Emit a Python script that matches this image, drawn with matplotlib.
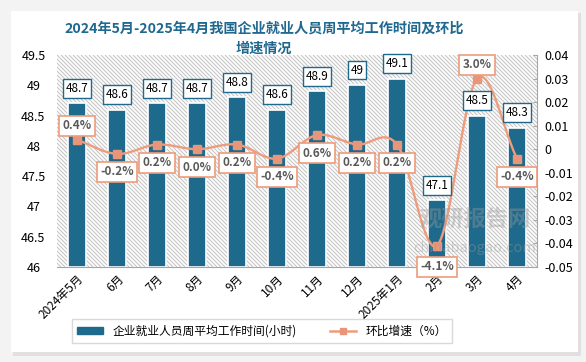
import numpy as np
import matplotlib
matplotlib.use("Agg")
import matplotlib.pyplot as plt
from matplotlib.patches import Rectangle
from matplotlib.lines import Line2D
from matplotlib.collections import LineCollection

plt.rcParams['font.family'] = ['Noto Sans CJK SC', 'DejaVu Sans']

# データ
months = ["2024年5月", "6月", "7月", "8月", "9月", "10月", "11月", "12月",
          "2025年1月", "2月", "3月", "4月"]
hours = [48.7, 48.6, 48.7, 48.7, 48.8, 48.6, 48.9, 49.0, 49.1, 47.1, 48.5, 48.3]
hour_labels = ["48.7", "48.6", "48.7", "48.7", "48.8", "48.6", "48.9", "49",
               "49.1", "47.1", "48.5", "48.3"]
growth = [0.004, -0.002, 0.002, 0.000, 0.002, -0.004, 0.006, 0.002, 0.002,
          -0.041, 0.030, -0.004]
growth_labels = ["0.4%", "-0.2%", "0.2%", "0.0%", "0.2%", "-0.4%", "0.6%",
                 "0.2%", "0.2%", "-4.1%", "3.0%", "-0.4%"]
left_ticks = [46, 46.5, 47, 47.5, 48, 48.5, 49, 49.5]
left_tick_labels = ["46", "46.5", "47", "47.5", "48", "48.5", "49", "49.5"]
right_ticks = [-0.05, -0.04, -0.03, -0.02, -0.01, 0, 0.01, 0.02, 0.03, 0.04]
right_tick_labels = ["-0.05", "-0.04", "-0.03", "-0.02", "-0.01", "0",
                     "0.01", "0.02", "0.03", "0.04"]

BAR_C = '#1d6a8d'
LINE_C = '#ee9c7c'


def smooth(x, y, n=20):
    # Catmull-Rom で滑らかな線にする（Excelの平滑線風）
    x = np.asarray(x, float)
    y = np.asarray(y, float)
    px = np.concatenate([[2 * x[0] - x[1]], x, [2 * x[-1] - x[-2]]])
    py = np.concatenate([[2 * y[0] - y[1]], y, [2 * y[-1] - y[-2]]])
    xs, ys = [], []
    t = np.linspace(0, 1, n)
    for i in range(1, len(px) - 2):
        for arr, out in ((px, xs), (py, ys)):
            p0, p1, p2, p3 = arr[i - 1], arr[i], arr[i + 1], arr[i + 2]
            out.extend(0.5 * ((2 * p1) + (-p0 + p2) * t
                              + (2 * p0 - 5 * p1 + 4 * p2 - p3) * t ** 2
                              + (-p0 + 3 * p1 - 3 * p2 + p3) * t ** 3))
    return np.array(xs), np.array(ys)


fig = plt.figure(figsize=(5.86, 3.62), dpi=100)
fig.patch.set_facecolor('#f3f3f3')
# カード（影＋白背景）
fig.patches.append(Rectangle((13 / 586, 6 / 362), 568 / 586, 343 / 362,
                             transform=fig.transFigure, facecolor='#e0e0e0',
                             edgecolor='none', zorder=-20))
fig.patches.append(Rectangle((11 / 586, 10 / 362), 567 / 586, 341 / 362,
                             transform=fig.transFigure, facecolor='white',
                             edgecolor='none', zorder=-10))

AX_W, AX_H = 480, 212
ax = fig.add_axes([57 / 586, 95 / 362, AX_W / 586, AX_H / 362])
ax.set_facecolor('white')
# 斜線の背景（装飾）
segs = [[(x0 / AX_W, 1), ((x0 + AX_H) / AX_W, 0)]
        for x0 in np.arange(-AX_H, AX_W, 4)]
ax.add_collection(LineCollection(segs, colors='#c6c6c6', linewidths=0.8,
                                 transform=ax.transAxes, zorder=0.5),
                  autolim=False)
x = np.arange(len(months))
ax.bar(x + 0.04, [h - 46 for h in hours], bottom=46, width=0.44, color='#c8c8c8',
       edgecolor='none', zorder=1)
bars = ax.bar(x, [h - 46 for h in hours], bottom=46, width=0.44, color=BAR_C,
              edgecolor='white', linewidth=1.2, zorder=2)
ax.set_xlim(-0.5, len(months) - 0.5)
ax.set_ylim(46, 49.5)
ax.set_yticks(left_ticks)
ax.set_yticklabels(left_tick_labels, ha='center')
ax.set_xticks(x)
ax.set_xticklabels(months, rotation=45, ha='right', rotation_mode='anchor')
ax.tick_params(axis='y', length=0, labelsize=9, pad=17)
ax.tick_params(axis='x', length=0, labelsize=8.5, pad=4)
for s in ['left', 'top', 'right']:
    ax.spines[s].set_visible(False)
ax.spines['bottom'].set_color('#a6a6a6')

ax2 = ax.twinx()
ax2.set_ylim(-0.05, 0.04)
ax2.set_yticks(right_ticks)
ax2.set_yticklabels(right_tick_labels)
ax2.tick_params(axis='y', direction='in', length=3, color='#a6a6a6',
                labelsize=9, pad=5)
for s in ['left', 'top', 'bottom']:
    ax2.spines[s].set_visible(False)
ax2.spines['right'].set_color('#a6a6a6')

sx, sy = smooth(x, growth)
ax2.plot(sx, sy, color=LINE_C, lw=1.7, zorder=3)
ax2.plot(x, growth, ls='none', marker='s', ms=6, color='#e8957a', zorder=4)

# 棒の数値ラベル（折れ線より手前に）
for xi, h, lab in zip(x, hours, hour_labels):
    ax2.annotate(lab, (xi, h), xycoords=ax.transData, xytext=(0, 11),
                 textcoords='offset points', ha='center', va='center',
                 fontsize=8.5, color='black', zorder=6,
                 bbox=dict(boxstyle='square,pad=0.25', fc='white', ec=BAR_C, lw=1))

above = [0, 10]
for i, (g, lab) in enumerate(zip(growth, growth_labels)):
    dy = 10 if i in above else -13
    if i == 9:
        dy = -15
    ax2.annotate(lab, (i, g), xytext=(0, dy), textcoords='offset points',
                 ha='center', va='center', fontsize=8.5, color='#595959',
                 fontweight='bold', zorder=7,
                 bbox=dict(boxstyle='square,pad=0.3', fc='white', ec=LINE_C, lw=1.2))

# 透かし
fig.text(475 / 586, 1 - 220 / 362, "观研报告网", fontsize=16, fontweight='bold',
         color='#9a9a9a', alpha=0.4, ha='center', va='center', zorder=5)
fig.text(475 / 586, 1 - 248 / 362, "chinabaogao.com", fontsize=10.5,
         color='#9a9a9a', alpha=0.4, ha='center', va='center', zorder=5)

fig.text(264 / 586, 1 - 29 / 362, "2024年5月-2025年4月我国企业就业人员周平均工作时间及环比",
         fontsize=10.2, fontweight='bold', color='#1f6890', ha='center', va='center')
fig.text(264 / 586, 1 - 49 / 362, "增速情况", fontsize=10.2, fontweight='bold',
         color='#1f6890', ha='center', va='center')

handles = [Rectangle((0, 0), 1, 1, color=BAR_C),
           Line2D([], [], color=LINE_C, lw=1.8, marker='s', ms=5,
                  markerfacecolor='#e8957a', markeredgecolor='#e8957a')]
leg = fig.legend(handles, ["企业就业人员周平均工作时间(小时)", "环比增速（%）"],
                 loc='center', bbox_to_anchor=(262 / 586, 31 / 362), ncol=2,
                 fontsize=8.5, frameon=True, fancybox=False, handlelength=2.2,
                 columnspacing=2.8, borderpad=0.45, handleheight=0.5)
leg.get_frame().set_edgecolor('#d0d0d0')
leg.get_frame().set_linewidth(1)

fig.savefig("out.png", dpi=100, facecolor=fig.get_facecolor())
